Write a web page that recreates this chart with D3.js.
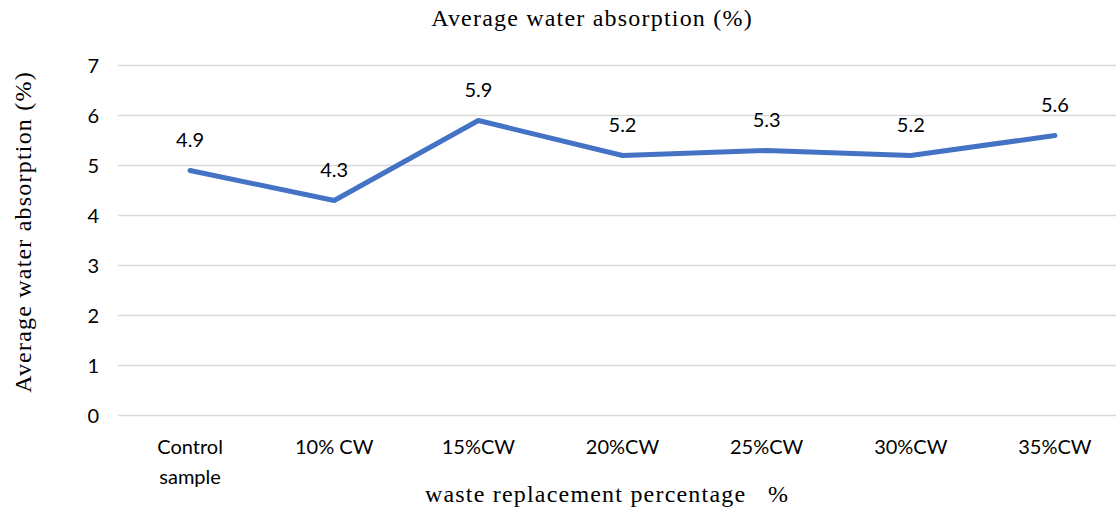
<!DOCTYPE html>
<html>
<head>
<meta charset="utf-8">
<script src="https://cdn.jsdelivr.net/npm/d3@7"></script>
<style>
  body { margin: 0; background: #fff; }
  svg { display: block; }
</style>
</head>
<body>
<div id="chart"></div>
<script>
// chart data
var categories = ["Control sample", "10% CW", "15%CW", "20%CW", "25%CW", "30%CW", "35%CW"];
var absorption = [4.9, 4.3, 5.9, 5.2, 5.3, 5.2, 5.6];
var yTicks = [0, 1, 2, 3, 4, 5, 6, 7];

var W = 1116, H = 511;
var margin = {top: 66, left: 118, bottom: 95};
var plotRight = 1127;

var svg = d3.select("#chart").append("svg")
    .attr("width", W)
    .attr("height", H);

var x = d3.scaleBand().domain(categories).range([margin.left, plotRight]);
var y = d3.scaleLinear().domain([0, 7]).range([H - margin.bottom - 0.5, margin.top - 0.5]);

var labelFont = "Lato, 'Open Sans', sans-serif";
var serif = "'Liberation Serif', 'DejaVu Serif', serif";

// gridlines
svg.append("g")
    .selectAll("line")
    .data(yTicks)
    .join("line")
    .attr("x1", margin.left)
    .attr("x2", plotRight)
    .attr("y1", function(d) { return y(d); })
    .attr("y2", function(d) { return y(d); })
    .attr("stroke", "#d9d9d9")
    .attr("stroke-width", 1.5);

// y tick labels
svg.append("g")
    .selectAll("text")
    .data(yTicks)
    .join("text")
    .attr("x", 99)
    .attr("y", function(d) { return y(d); })
    .attr("dy", "0.35em")
    .attr("text-anchor", "end")
    .style("font-family", labelFont)
    .style("font-size", "20px")
    .attr("fill", "#000")
    .text(function(d) { return d; });

// x category labels (wrapped)
var xl = svg.append("g")
    .selectAll("text")
    .data(categories)
    .join("text")
    .attr("x", function(d) { return x(d) + x.bandwidth() / 2; })
    .attr("y", 454)
    .attr("text-anchor", "middle")
    .style("font-family", labelFont)
    .style("font-size", "20px")
    .attr("fill", "#000");

xl.each(function(d) {
    var parts = d === "Control sample" ? ["Control", "sample"] : [d];
    var t = d3.select(this);
    parts.forEach(function(p, i) {
        t.append("tspan")
            .attr("x", x(d) + x.bandwidth() / 2)
            .attr("dy", i === 0 ? 0 : 30)
            .text(p);
    });
});

// the line
var line = d3.line()
    .x(function(d, i) { return x(categories[i]) + x.bandwidth() / 2; })
    .y(function(d) { return y(d); });

svg.append("path")
    .datum(absorption)
    .attr("d", line)
    .attr("fill", "none")
    .attr("stroke", "#4472c4")
    .attr("stroke-width", 5)
    .attr("stroke-linecap", "round")
    .attr("stroke-linejoin", "round");

// data labels
svg.append("g")
    .selectAll("text")
    .data(absorption)
    .join("text")
    .attr("x", function(d, i) { return x(categories[i]) + x.bandwidth() / 2; })
    .attr("y", function(d) { return y(d) - 31; })
    .attr("dy", "0.35em")
    .attr("text-anchor", "middle")
    .style("font-family", labelFont)
    .style("font-size", "20px")
    .attr("fill", "#000")
    .text(function(d) { return d.toFixed(1); });

// title
svg.append("text")
    .attr("x", 592)
    .attr("y", 26)
    .attr("text-anchor", "middle")
    .style("font-family", serif)
    .style("font-size", "24px")
    .style("letter-spacing", "1.2px")
    .text("Average water absorption (%)");

// axis titles
svg.append("text")
    .attr("transform", "translate(31,232) rotate(-90)")
    .attr("text-anchor", "middle")
    .style("font-family", serif)
    .style("font-size", "24px")
    .style("letter-spacing", "1.2px")
    .text("Average water absorption (%)");

svg.append("text")
    .attr("x", 607)
    .attr("y", 502)
    .attr("text-anchor", "middle")
    .style("font-family", serif)
    .style("font-size", "24px")
    .style("letter-spacing", "1.2px")
    .attr("xml:space", "preserve")
    .text("waste replacement percentage   %");
</script>
</body>
</html>
